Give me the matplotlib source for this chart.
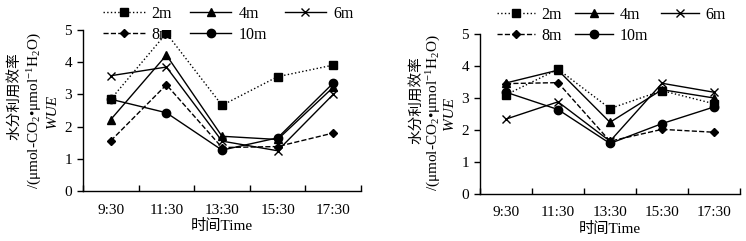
import matplotlib
matplotlib.use('Agg')
import matplotlib.pyplot as plt
import numpy as np

plt.rcParams['font.family'] = ['Liberation Serif', 'Noto Sans CJK SC', 'DejaVu Sans']
plt.rcParams['mathtext.fontset'] = 'custom'
plt.rcParams['mathtext.rm'] = 'Liberation Serif'
plt.rcParams['mathtext.it'] = 'Liberation Serif:italic'

times = ['9:30', '11:30', '13:30', '15:30', '17:30']
labels = ['2m', '4m', '6m', '8m', '10m']

# 左图
left_2m = [2.85, 4.90, 2.66, 3.55, 3.91]
left_4m = [2.22, 4.22, 1.70, 1.60, 3.22]
left_6m = [3.58, 3.85, 1.55, 1.25, 3.00]
left_8m = [1.56, 3.30, 1.35, 1.38, 1.80]
left_10m = [2.85, 2.43, 1.27, 1.65, 3.35]

# 右图
right_2m = [3.10, 3.90, 2.67, 3.23, 2.82]
right_4m = [3.47, 3.87, 2.24, 3.26, 3.00]
right_6m = [2.34, 2.88, 1.65, 3.46, 3.18]
right_8m = [3.45, 3.48, 1.65, 2.02, 1.93]
right_10m = [3.18, 2.64, 1.58, 2.20, 2.72]

styles = [
    dict(ls=':', marker='s', ms=6),
    dict(ls='-', marker='^', ms=6),
    dict(ls='-', marker='x', ms=6, mew=1.0),
    dict(ls='--', marker='D', ms=4),
    dict(ls='-', marker='o', ms=6),
]


def draw_panel(ax, series, leg_anchor, leg_kw):
    x = np.arange(len(times))
    handles = []
    for vals, lab, st in zip(series, labels, styles):
        h, = ax.plot(x, vals, color='black', lw=1.0, mfc='black', mec='black', label=lab, **st)
        handles.append(h)
    ax.set_xlim(-0.5, len(times) - 0.5)
    ax.set_ylim(0, 5)
    ax.set_yticks(range(6))
    ax.set_xticks(np.arange(-0.5, len(times), 1.0))
    ax.set_xticklabels([])
    ax.set_xticks(x, minor=True)
    ax.set_xticklabels(times, minor=True)
    ax.tick_params(axis='x', which='minor', length=0, pad=9, labelsize=11)
    ax.tick_params(axis='x', which='major', length=4, direction='in', width=1)
    ax.tick_params(axis='y', length=4, direction='out', width=1, labelsize=11, pad=4)
    ax.spines['top'].set_visible(False)
    ax.spines['right'].set_visible(False)
    for s in ('left', 'bottom'):
        ax.spines[s].set_linewidth(1)
    ax.set_xlabel('时间Time', fontsize=11, labelpad=2)
    # 图例按行排列: 2m 4m 6m / 8m 10m
    order = [0, 3, 1, 4, 2]
    ax.legend([handles[i] for i in order], [labels[i] for i in order],
              ncol=3, loc='upper left', bbox_to_anchor=leg_anchor, bbox_transform=ax.figure.transFigure,
              frameon=False, fontsize=11.5, labelspacing=0.3, borderpad=0, borderaxespad=0, **leg_kw)


fig = plt.figure(figsize=(7.46, 2.41), dpi=100)
ax1 = fig.add_axes([83 / 746, 1 - 191 / 241, (361 - 83) / 746, (191 - 30) / 241])
ax2 = fig.add_axes([480 / 746, 1 - 194 / 241, (740 - 480) / 746, (194 - 34) / 241])

draw_panel(ax1, [left_2m, left_4m, left_6m, left_8m, left_10m], (103 / 746, 1 - 6 / 241),
           dict(handlelength=2.6, handletextpad=0.45, columnspacing=1.1))
draw_panel(ax2, [right_2m, right_4m, right_6m, right_8m, right_10m], (497 / 746, 1 - 7 / 241),
           dict(handlelength=2.4, handletextpad=0.4, columnspacing=0.8))

ylab1 = '水分利用效率'
ylab2 = r'/(μmol-CO$_2$•μmol$^{-1}$H$_2$O)'
for (x1, x2, x3, yc1, yc2) in [(14, 35, 52, 96, 111), (416, 434, 450, 100, 113)]:
    fig.text(x1 / 746, 1 - yc1 / 241, ylab1, rotation=90, ha='center', va='center', fontsize=10.5)
    fig.text(x2 / 746, 1 - yc2 / 241, ylab2, rotation=90, ha='center', va='center', fontsize=11)
    fig.text(x3 / 746, 1 - yc2 / 241, 'WUE', rotation=90, ha='center', va='center', fontsize=11, style='italic')

fig.savefig('out.png', dpi=100)
